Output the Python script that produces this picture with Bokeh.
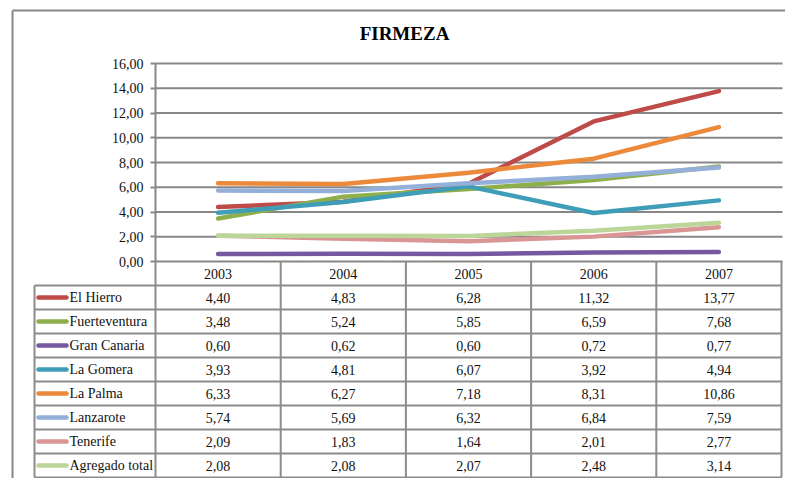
from bokeh.plotting import figure
from bokeh.models import Range1d, LinearAxis, FixedTicker, Label
from bokeh.core.properties import value
from bokeh.embed import file_html
from bokeh.resources import INLINE

# ---------------- data ----------------
title_text = "FIRMEZA"
years = ["2003", "2004", "2005", "2006", "2007"]
series_names = ["El Hierro", "Fuerteventura", "Gran Canaria", "La Gomera",
                "La Palma", "Lanzarote", "Tenerife", "Agregado total"]
el_hierro = [4.40, 4.83, 6.28, 11.32, 13.77]
fuerteventura = [3.48, 5.24, 5.85, 6.59, 7.68]
gran_canaria = [0.60, 0.62, 0.60, 0.72, 0.77]
la_gomera = [3.93, 4.81, 6.07, 3.92, 4.94]
la_palma = [6.33, 6.27, 7.18, 8.31, 10.86]
lanzarote = [5.74, 5.69, 6.32, 6.84, 7.59]
tenerife = [2.09, 1.83, 1.64, 2.01, 2.77]
agregado_total = [2.08, 2.08, 2.07, 2.48, 3.14]
y_ticks = [0, 2, 4, 6, 8, 10, 12, 14, 16]
y_tick_labels = ["0,00", "2,00", "4,00", "6,00", "8,00", "10,00", "12,00", "14,00", "16,00"]

series_values = [el_hierro, fuerteventura, gran_canaria, la_gomera,
                 la_palma, lanzarote, tenerife, agregado_total]
colors = ["#BE4B48", "#8DB04C", "#7558A0", "#3F9DB8",
          "#EC8A3C", "#94B0D8", "#D99694", "#BCD598"]

# ---------------- layout (canvas pixels) ----------------
FIG_W, FIG_H = 785, 478
AXIS_X = 155.0          # canvas x of value axis / first column edge
TABLE_RIGHT = 781.0
COL_W = (TABLE_RIGHT - AXIS_X) / len(years)
ZERO_Y = 261.0          # canvas y of value 0
PX_PER_UNIT = 198.0 / 16.0
ROW_H_PX = 24.0
LEG_LEFT = 34.0
FONT = "Liberation Serif"
GRID_COLOR = "#878787"
TABLE_COLOR = "#8C8C8C"
TEXT_COLOR = "#111111"


def dx(cx):
    return (cx - AXIS_X) / COL_W


def dy(cy):
    return (ZERO_Y - cy) / PX_PER_UNIT


row_h = ROW_H_PX / PX_PER_UNIT
n_rows = len(series_names) + 1
table_bottom = -n_rows * row_h
n_cols = len(years)

p = figure(width=FIG_W, height=FIG_H, output_backend="svg", toolbar_location=None,
           x_range=Range1d(dx(0), dx(FIG_W)), y_range=Range1d(dy(FIG_H), dy(0)),
           x_axis_type=None, y_axis_type=None,
           min_border_left=0, min_border_right=0, min_border_top=0, min_border_bottom=0)
p.outline_line_color = None
p.background_fill_color = "white"
p.border_fill_color = "white"
p.grid.visible = False

# outer chart-area border (left and top visible)
p.segment(x0=[dx(12), dx(12)], y0=[dy(10), dy(10)], x1=[dx(12), dx(FIG_W)], y1=[dy(FIG_H), dy(10)],
          line_color=GRID_COLOR, line_width=2)

# horizontal gridlines at value ticks
p.segment(x0=[0] * len(y_ticks), x1=[dx(782)] * len(y_ticks), y0=y_ticks, y1=y_ticks,
          line_color=GRID_COLOR, line_width=2)

# value axis
yaxis = LinearAxis(fixed_location=0, ticker=FixedTicker(ticks=y_ticks), bounds=(0, 16))
yaxis.major_label_overrides = {t: lab for t, lab in zip(y_ticks, y_tick_labels)}
yaxis.axis_line_color = GRID_COLOR
yaxis.axis_line_width = 2
yaxis.major_tick_line_color = GRID_COLOR
yaxis.major_tick_line_width = 2
yaxis.major_tick_out = 5
yaxis.major_tick_in = 0
yaxis.minor_tick_line_color = None
yaxis.major_label_standoff = 7
yaxis.major_label_text_font = FONT
yaxis.major_label_text_font_size = "14px"
yaxis.major_label_text_color = TEXT_COLOR
p.add_layout(yaxis, "left")

# category axis (table header)
centers = [i + 0.5 for i in range(n_cols)]
xaxis = LinearAxis(fixed_location=0, ticker=FixedTicker(ticks=centers))
xaxis.major_label_overrides = {c: y for c, y in zip(centers, years)}
xaxis.axis_line_color = None
xaxis.major_tick_line_color = None
xaxis.minor_tick_line_color = None
xaxis.major_tick_out = 0
xaxis.major_tick_in = 0
xaxis.major_label_standoff = 7
xaxis.major_label_text_font = FONT
xaxis.major_label_text_font_size = "14px"
xaxis.major_label_text_color = TEXT_COLOR
p.add_layout(xaxis, "below")

# table grid
h_y = [-k * row_h for k in range(1, n_rows + 1)]
p.segment(x0=[dx(LEG_LEFT)] * len(h_y), x1=[n_cols] * len(h_y), y0=h_y, y1=h_y,
          line_color=TABLE_COLOR, line_width=2)
v_x = list(range(n_cols + 1))
p.segment(x0=v_x, x1=v_x, y0=[0] * len(v_x), y1=[table_bottom] * len(v_x),
          line_color=TABLE_COLOR, line_width=2)
p.segment(x0=[dx(LEG_LEFT)], x1=[dx(LEG_LEFT)], y0=[-row_h], y1=[table_bottom],
          line_color=TABLE_COLOR, line_width=2)

# series lines, legend keys and table values
for i, (name, vals, col) in enumerate(zip(series_names, series_values, colors)):
    p.line(x=centers, y=vals, line_color=col, line_width=4.5,
           line_cap="round", line_join="round")
    yc = -(i + 1.5) * row_h
    p.segment(x0=[dx(38)], x1=[dx(66)], y0=[yc], y1=[yc], line_color=col,
              line_width=4.5, line_cap="round")
    p.text(x=[dx(69)], y=[yc], text=[name], text_font=value(FONT),
           text_font_size="14px", text_align="left", text_baseline="middle",
           text_color=TEXT_COLOR)
    p.text(x=centers, y=[yc] * n_cols,
           text=[f"{v:.2f}".replace(".", ",") for v in vals],
           text_font=value(FONT), text_font_size="14px", text_align="center",
           text_baseline="middle", text_color=TEXT_COLOR)

# title
p.add_layout(Label(x=dx(404), y=dy(33), text=title_text, text_font=FONT,
                   text_font_size="19px", text_font_style="bold",
                   text_align="center", text_baseline="middle", text_color="#000000"))

open("out.html", "w").write(file_html(p, INLINE))
